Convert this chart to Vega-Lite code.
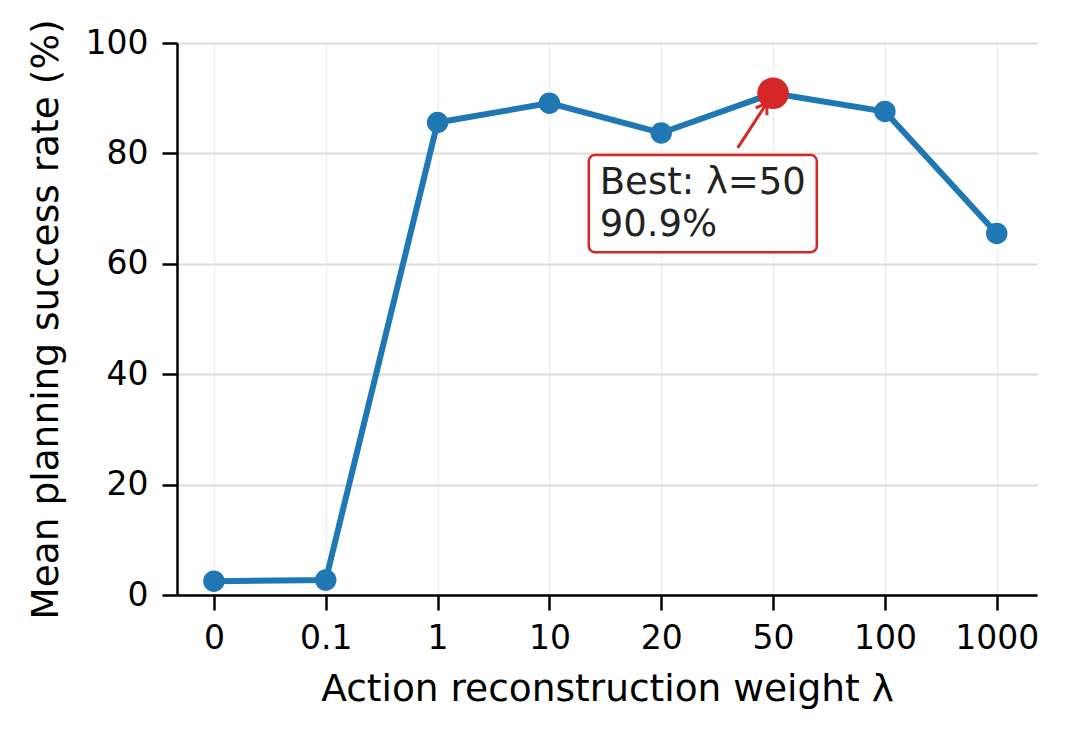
{
  "$schema": "https://vega.github.io/schema/vega-lite/v6.json",
  "width": 860,
  "height": 552,
  "autosize": {"type": "none"},
  "padding": {"left": 177, "top": 43, "right": 32, "bottom": 144},
  "background": "white",
  "config": {
    "font": "DejaVu Sans",
    "view": {"stroke": null},
    "axis": {
      "domainColor": "black",
      "domainWidth": 2.5,
      "tickColor": "black",
      "tickWidth": 2.5,
      "tickSize": 15,
      "labelFont": "DejaVu Sans",
      "labelFontSize": 33,
      "labelColor": "black",
      "titleFont": "DejaVu Sans",
      "titleFontSize": 37.5,
      "titleFontWeight": "normal",
      "titleColor": "black"
    }
  },
  "datasets": {
    "main": [
      {"idx": 0, "lambda": "0", "rate": 2.5},
      {"idx": 1, "lambda": "0.1", "rate": 2.7},
      {"idx": 2, "lambda": "1", "rate": 85.6},
      {"idx": 3, "lambda": "10", "rate": 89.1},
      {"idx": 4, "lambda": "20", "rate": 83.7},
      {"idx": 5, "lambda": "50", "rate": 90.9},
      {"idx": 6, "lambda": "100", "rate": 87.6},
      {"idx": 7, "lambda": "1000", "rate": 65.5}
    ],
    "best": [{"idx": 5, "rate": 90.9}],
    "box": [{"x1": 3.352, "x2": 5.391, "y1": 62.1, "y2": 79.7}],
    "arrow": [{"x1": 4.684, "y1": 81.0, "x2": 4.944, "y2": 89.1}],
    "label": [{"x": 3.45, "y": 72.6, "text": ["Best: λ=50", "90.9%"]}]
  },
  "layer": [
    {
      "data": {"name": "main"},
      "mark": {"type": "line", "color": "#1f77b4", "strokeWidth": 6},
      "encoding": {
        "x": {
          "field": "idx",
          "type": "quantitative",
          "scale": {"domain": [-0.33, 7.36], "nice": false, "zero": false},
          "axis": {
            "values": [0, 1, 2, 3, 4, 5, 6, 7],
            "labelExpr": "['0','0.1','1','10','20','50','100','1000'][datum.value]",
            "title": "Action reconstruction weight λ",
            "grid": true,
            "gridColor": "#f0f0f0",
            "gridWidth": 1.5,
            "labelPadding": 12,
            "titlePadding": 15
          }
        },
        "y": {
          "field": "rate",
          "type": "quantitative",
          "scale": {"domain": [0, 100], "nice": false},
          "axis": {
            "values": [0, 20, 40, 60, 80, 100],
            "title": "Mean planning success rate (%)",
            "grid": true,
            "gridColor": "#dcdcdc",
            "gridWidth": 2,
            "labelPadding": 14,
            "titlePadding": 20
          }
        }
      }
    },
    {
      "data": {"name": "main"},
      "mark": {"type": "point", "shape": "circle", "filled": true, "color": "#1f77b4", "opacity": 1, "size": 460},
      "encoding": {
        "x": {"field": "idx", "type": "quantitative"},
        "y": {"field": "rate", "type": "quantitative"}
      }
    },
    {
      "data": {"name": "best"},
      "mark": {"type": "point", "shape": "circle", "filled": true, "color": "#d62728", "opacity": 1, "size": 1000},
      "encoding": {
        "x": {"field": "idx", "type": "quantitative"},
        "y": {"field": "rate", "type": "quantitative"}
      }
    },
    {
      "data": {"name": "arrow"},
      "mark": {"type": "rule", "color": "#d62728", "strokeWidth": 3},
      "encoding": {
        "x": {"field": "x1", "type": "quantitative"},
        "y": {"field": "y1", "type": "quantitative"},
        "x2": {"field": "x2"},
        "y2": {"field": "y2"}
      }
    },
    {
      "data": {"name": "arrow"},
      "mark": {"type": "point", "shape": "M-0.6,0.9L0,0L0.6,0.9", "filled": false, "stroke": "#d62728", "strokeWidth": 3, "opacity": 1, "size": 500, "angle": 33},
      "encoding": {
        "x": {"field": "x2", "type": "quantitative"},
        "y": {"field": "y2", "type": "quantitative"}
      }
    },
    {
      "data": {"name": "box"},
      "mark": {"type": "rect", "fill": "white", "stroke": "#d62728", "strokeWidth": 2.5, "cornerRadius": 6},
      "encoding": {
        "x": {"field": "x1", "type": "quantitative"},
        "x2": {"field": "x2"},
        "y": {"field": "y1", "type": "quantitative"},
        "y2": {"field": "y2"}
      }
    },
    {
      "data": {"name": "label"},
      "mark": {"type": "text", "align": "left", "baseline": "alphabetic", "fontSize": 37, "lineHeight": 42, "color": "#222222", "font": "DejaVu Sans"},
      "encoding": {
        "x": {"field": "x", "type": "quantitative"},
        "y": {"field": "y", "type": "quantitative"},
        "text": {"field": "text"}
      }
    }
  ]
}
